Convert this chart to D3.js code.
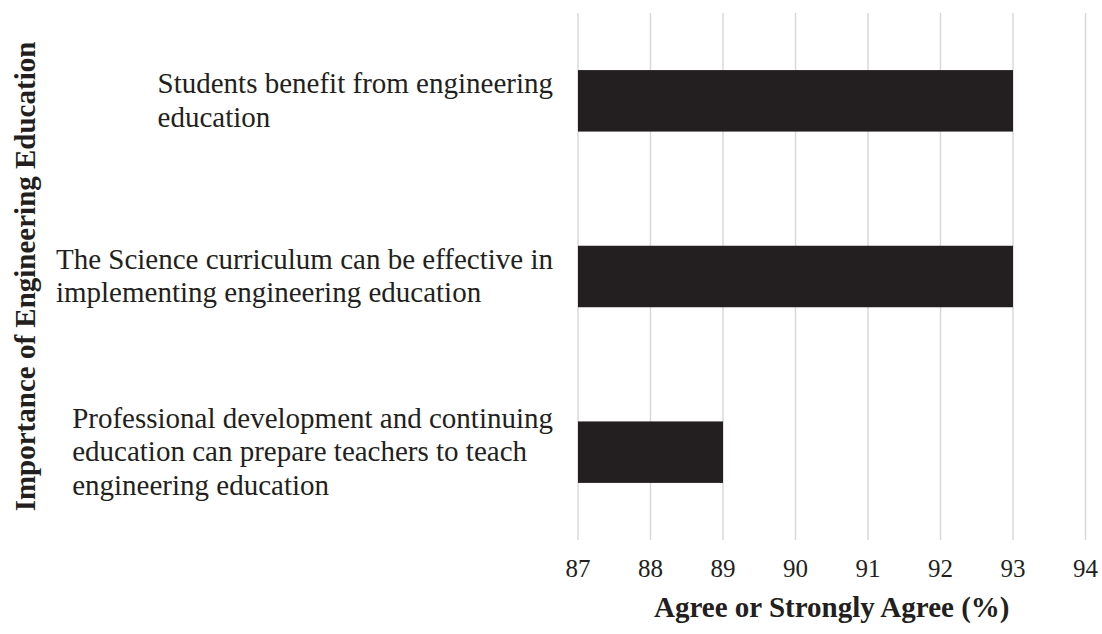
<!DOCTYPE html>
<html>
<head>
<meta charset="utf-8">
<script src="https://cdn.jsdelivr.net/npm/d3@7"></script>
<style>
  body { margin: 0; background: #fff; }
  svg { display: block; }
  text { font-family: "Liberation Serif", "Times New Roman", serif; fill: #231f20; }
</style>
</head>
<body>
<svg id="chart" width="1102" height="634"></svg>
<script>
// data
var categories = [
    "Students benefit from engineering education",
    "The Science curriculum can be effective in implementing engineering education",
    "Professional development and continuing education can prepare teachers to teach engineering education"
];
var values = [93, 93, 89];
var xTicks = [87, 88, 89, 90, 91, 92, 93, 94];
var xTitle = "Agree or Strongly Agree (%)";
var yTitle = "Importance of Engineering Education";

var svg = d3.select("#chart");

// plot box (note: "top" is taken by window, so use other names)
var plotLeft = 578, plotRight = 1085.5, plotTop = 13, plotBottom = 540;

var x = d3.scaleLinear().domain([87, 94]).range([plotLeft, plotRight]);
var y = d3.scaleBand().domain(categories).range([plotTop, plotBottom])
    .paddingInner(0.65).paddingOuter(0.325);

// gridlines
svg.append("g").selectAll("line")
    .data(xTicks)
    .enter().append("line")
    .attr("x1", d => x(d)).attr("x2", d => x(d))
    .attr("y1", plotTop).attr("y2", plotBottom)
    .attr("stroke", "#d9d9d9")
    .attr("stroke-width", 1.5);

// bars
svg.append("g").selectAll("rect")
    .data(categories)
    .enter().append("rect")
    .attr("x", x(87))
    .attr("y", d => y(d))
    .attr("width", (d, i) => x(values[i]) - x(87))
    .attr("height", y.bandwidth())
    .attr("fill", "#231f20");

// x tick labels
svg.append("g").selectAll("text")
    .data(xTicks)
    .enter().append("text")
    .attr("x", d => x(d))
    .attr("y", 577)
    .attr("text-anchor", "middle")
    .style("font-size", "25px")
    .text(d => d);

// x title
svg.append("text")
    .attr("x", (plotLeft + plotRight) / 2)
    .attr("y", 617)
    .attr("text-anchor", "middle")
    .style("font-size", "29px")
    .style("font-weight", "bold")
    .text(xTitle);

// y title
svg.append("text")
    .attr("transform", "translate(35," + ((40 + 513) / 2) + ") rotate(-90)")
    .attr("text-anchor", "middle")
    .style("font-size", "29px")
    .style("font-weight", "bold")
    .text(yTitle);

// category labels, wrapped like excel does
var maxW = 505, lineH = 33.5, labelRight = 553;
var measure = svg.append("text").style("font-size", "29px");

function wrap(str) {
    var words = str.split(" ");
    var lines = [], cur = "";
    words.forEach(function (w) {
        var test = cur ? cur + " " + w : w;
        measure.text(test);
        if (measure.node().getComputedTextLength() > maxW && cur) {
            lines.push(cur);
            cur = w;
        } else {
            cur = test;
        }
    });
    if (cur) lines.push(cur);
    return lines;
}

categories.forEach(function (c) {
    var lines = wrap(c);
    var widest = d3.max(lines, function (l) {
        measure.text(l);
        return measure.node().getComputedTextLength();
    });
    var cy = y(c) + y.bandwidth() / 2;
    var firstBase = cy + 9 - (lines.length - 1) * lineH / 2;
    var t = svg.append("text").style("font-size", "29px");
    lines.forEach(function (l, i) {
        t.append("tspan")
            .attr("x", labelRight - widest)
            .attr("y", firstBase + i * lineH)
            .text(l);
    });
});
measure.remove();
</script>
</body>
</html>
